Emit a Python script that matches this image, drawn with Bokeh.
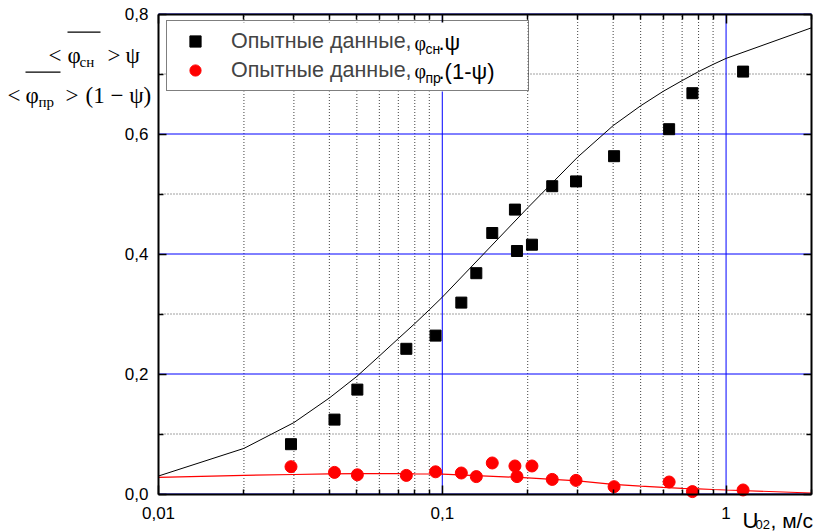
import math
from bokeh.plotting import figure
from bokeh.models import (FixedTicker, CustomJSTickFormatter, LogAxis, LinearAxis, LogScale,
                          Label, Legend, LegendItem, BoxAnnotation, Range1d)
from bokeh.embed import file_html
from bokeh.resources import INLINE

# ---- data ----
u_exp = [0.0293, 0.0417, 0.0502, 0.0747, 0.0947, 0.1167, 0.1318, 0.150, 0.1803,
         0.1833, 0.207, 0.244, 0.296, 0.403, 0.630, 0.761, 1.148]
phi_sn_psi = [0.083, 0.124, 0.174, 0.242, 0.264, 0.319, 0.368, 0.435, 0.474,
              0.405, 0.4155, 0.513, 0.521, 0.563, 0.608, 0.668, 0.704]
phi_pr_1mpsi = [0.0455, 0.036, 0.032, 0.031, 0.037, 0.035, 0.029, 0.0517, 0.0467,
                0.029, 0.0467, 0.0243, 0.0227, 0.0122, 0.020, 0.004, 0.0067]

u_fit = [0.01, 0.02, 0.03, 0.04, 0.05, 0.06, 0.07, 0.08, 0.09,
         0.1, 0.2, 0.3, 0.4, 0.5, 0.6, 0.7, 0.8, 0.9, 1.0, 2.0]
sn_fit = [0.030, 0.076, 0.119, 0.160, 0.196, 0.230, 0.259, 0.284, 0.307,
          0.328, 0.477, 0.5615, 0.614, 0.647, 0.671, 0.689, 0.704, 0.716, 0.726, 0.777]
pr_fit = [0.0278, 0.031, 0.0325, 0.0335, 0.034, 0.034, 0.034, 0.0335, 0.0333,
          0.033, 0.027, 0.022, 0.016, 0.013, 0.011, 0.0095, 0.0085, 0.0075, 0.0067, 0.0017]

x_lim = [0.01, 2.0]
y_lim = [0.0, 0.8]
x_major = [0.01, 0.1, 1]
x_minor = [0.02, 0.03, 0.04, 0.05, 0.06, 0.07, 0.08, 0.09,
           0.2, 0.3, 0.4, 0.5, 0.6, 0.7, 0.8, 0.9, 2]
y_major = [0.0, 0.2, 0.4, 0.6, 0.8]
y_minor = [0.1, 0.3, 0.5, 0.7]

legend_label = "Опытные данные,"

# ---- layout (pixels) ----
W, H = 831, 532
BOX_L, BOX_R, BOX_T, BOX_B = 158, 811, 13.5, 493.5
SANS = "Liberation Sans"
SERIF = "Liberation Serif"
BLUE = "#0000ff"

# the frame fills the whole canvas; the data box is placed inside it
lx0, lx1 = math.log10(x_lim[0]), math.log10(x_lim[1])
px_per_dec = (BOX_R - BOX_L) / (lx1 - lx0)
x_start = 10 ** (lx0 - BOX_L / px_per_dec)
x_end = 10 ** (lx1 + (W - BOX_R) / px_per_dec)
px_per_unit = (BOX_B - BOX_T) / (y_lim[1] - y_lim[0])
y_start = y_lim[0] - (H - BOX_B) / px_per_unit
y_end = y_lim[1] + BOX_T / px_per_unit

p = figure(width=W, height=H, x_axis_type=None, y_axis_type=None,
           x_range=Range1d(x_start, x_end), y_range=Range1d(y_start, y_end),
           output_backend="svg", toolbar_location=None,
           min_border=0, min_border_left=0, min_border_right=0,
           min_border_top=0, min_border_bottom=0)
p.x_scale = LogScale()
p.outline_line_color = None
p.xgrid.visible = False
p.ygrid.visible = False

xfmt = CustomJSTickFormatter(code="return String(tick).replace('.', ',');")
yfmt = CustomJSTickFormatter(code="return tick.toFixed(1).replace('.', ',');")
nofmt = CustomJSTickFormatter(code="return '';")

def style_axis(ax, standoff, tick_in, minor_in):
    ax.axis_line_width = 2
    ax.axis_line_color = "black"
    ax.major_tick_in = tick_in
    ax.major_tick_out = 0
    ax.minor_tick_in = minor_in
    ax.minor_tick_out = 0
    ax.major_tick_line_width = 1.5
    ax.minor_tick_line_width = 1.5
    ax.major_label_text_font = SANS
    ax.major_label_text_color = "black"
    ax.major_label_standoff = standoff
    ax.major_label_text_font_size = "17px"

bottom = LogAxis(ticker=FixedTicker(ticks=x_major, minor_ticks=x_minor), formatter=xfmt,
                 fixed_location=y_lim[0], bounds=tuple(x_lim))
style_axis(bottom, 13, 9, 5)
p.add_layout(bottom, "below")
top = LogAxis(ticker=FixedTicker(ticks=x_major, minor_ticks=x_minor), formatter=nofmt,
              fixed_location=y_lim[1], bounds=tuple(x_lim))
style_axis(top, 0, 9, 5)
p.add_layout(top, "above")
left = LinearAxis(ticker=FixedTicker(ticks=y_major, minor_ticks=y_minor), formatter=yfmt,
                  fixed_location=x_lim[0], bounds=tuple(y_lim))
style_axis(left, 10, 8, 5)
p.add_layout(left, "left")
right = LinearAxis(ticker=FixedTicker(ticks=y_major, minor_ticks=y_minor), formatter=nofmt,
                   fixed_location=x_lim[1], bounds=tuple(y_lim))
style_axis(right, 0, 8, 5)
p.add_layout(right, "right")

# grid lines inside the data box, from the tick lists
p.segment(x0=x_minor, x1=x_minor, y0=[y_lim[0]] * len(x_minor), y1=[y_lim[1]] * len(x_minor),
          line_color="black", line_alpha=0.75, line_dash="1 2", line_width=1)
p.segment(x0=[x_lim[0]] * len(y_minor), x1=[x_lim[1]] * len(y_minor), y0=y_minor, y1=y_minor,
          line_color="black", line_alpha=0.75, line_dash="1 2", line_width=1)
p.segment(x0=x_major, x1=x_major, y0=[y_lim[0]] * len(x_major), y1=[y_lim[1]] * len(x_major),
          line_color=BLUE, line_width=1)
p.segment(x0=[x_lim[0]] * len(y_major), x1=[x_lim[1]] * len(y_major), y0=y_major, y1=y_major,
          line_color=BLUE, line_width=1)

p.line(u_fit, sn_fit, line_color="black", line_width=1)
p.line(u_fit, pr_fit, line_color="red", line_width=1.2)
sq = p.scatter(u_exp, phi_sn_psi, marker="square", size=11, color="black")
ci = p.scatter(u_exp, phi_pr_1mpsi, marker="circle", size=12, color="red")

# legend: white panel underneath, transparent legend box on top
LEG_L, LEG_R, LEG_T, LEG_B = 166, 527, 22, 91
p.add_layout(BoxAnnotation(left=LEG_L, right=LEG_R, top=H - LEG_T, bottom=H - LEG_B,
                           left_units="screen", right_units="screen",
                           top_units="screen", bottom_units="screen",
                           fill_color="white", fill_alpha=1, line_color=None,
                           level="annotation"))
legend = Legend(items=[LegendItem(label=legend_label, renderers=[sq]),
                       LegendItem(label=legend_label, renderers=[ci])],
                location=(LEG_L, H - LEG_B), margin=0, padding=6, spacing=1,
                glyph_width=44, glyph_height=28, label_height=28, label_width=291,
                label_standoff=14, border_line_color="black", border_line_width=1,
                label_text_font=SANS, label_text_font_size="21.5px",
                background_fill_alpha=0)
p.add_layout(legend)

def lab(text, x, y, font=SANS, size="20px", baseline="alphabetic", align="left"):
    # x, y: canvas pixels from the top-left corner
    p.add_layout(Label(x=x, y=H - y, x_units="screen", y_units="screen", text=text,
                       text_font=font, text_font_size=size, text_color="black",
                       text_baseline=baseline, text_align=align, level="overlay"))

# legend sub/superscript parts
lab("φ", 414, 42.25, font=SERIF, size="20px", baseline="middle")
lab("сн", 425, 48.5, size="14px", baseline="middle")
lab(".ψ", 438, 42.25, size="22px", baseline="middle")
lab("φ", 414, 70.75, font=SERIF, size="20px", baseline="middle")
lab("пр", 425, 77, size="14px", baseline="middle")
lab(".(1-ψ)", 438, 70.75, size="22px", baseline="middle")

# y axis title (two lines)
lab("<", 48, 55, font=SERIF, size="23px")
lab("φ", 67, 55, font=SERIF, size="23px")
lab("сн", 79, 61, font=SERIF, size="15px")
lab(">", 107, 55, font=SERIF, size="23px")
lab("ψ", 125, 55, font=SERIF, size="23px")
lab("<", 7, 95, font=SERIF, size="23px")
lab("φ", 25, 95, font=SERIF, size="23px")
lab("пр", 38, 101, font=SERIF, size="15px")
lab(">", 65, 95, font=SERIF, size="23px")
lab("(1 − ψ)", 85, 95, font=SERIF, size="23px")
for l, r, t in ((67, 100, 31), (25, 60, 71)):
    p.add_layout(BoxAnnotation(left=l, right=r, top=H - t, bottom=H - t - 1.2,
                               left_units="screen", right_units="screen",
                               top_units="screen", bottom_units="screen",
                               fill_color="black", fill_alpha=1, line_color=None,
                               level="overlay"))

# x axis title
lab("U", 742, 520, size="22px")
lab("02", 755, 524, size="13px")
lab(", м/с", 770, 520, size="21px")

open("out.html", "w").write(file_html(p, INLINE))
